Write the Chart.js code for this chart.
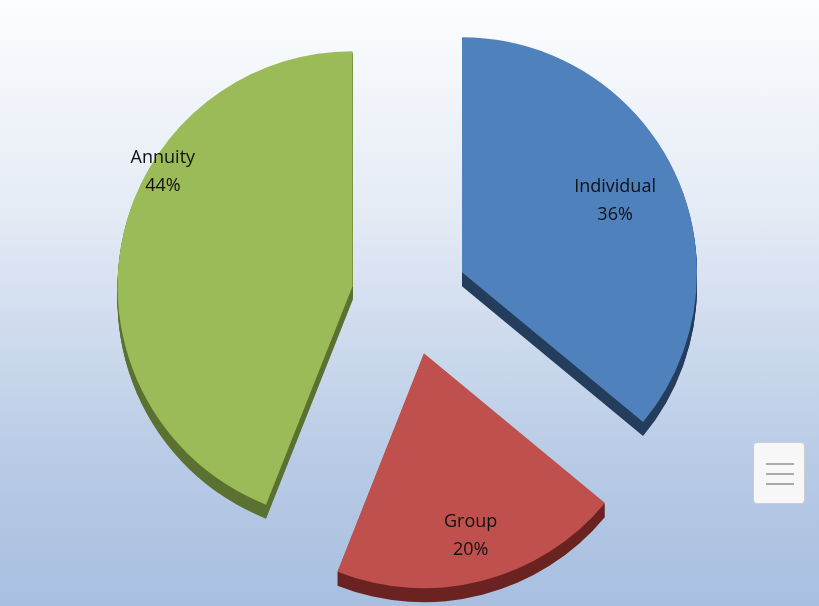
<!DOCTYPE html>
<html><head><meta charset="utf-8">
<script src="https://cdn.jsdelivr.net/npm/chart.js@4"></script>
<style>
html,body{margin:0;padding:0;width:819px;height:606px;overflow:hidden;}
body{background:linear-gradient(#fcfdfe 0%,#e4ebf5 35%,#b9cbe6 75%,#a8bfe0 100%);}
#wrap{position:absolute;left:0;top:0;width:819px;height:606px;}
#menu{position:absolute;left:753px;top:442px;width:52px;height:62px;background:#f7f7f7;border:1px solid #ccc;border-radius:4px;box-sizing:border-box;}
#menu div{position:absolute;left:12px;width:28px;height:2px;background:#aaa;}
</style></head><body>
<div id="wrap"><canvas id="c" width="819" height="606"></canvas></div>
<div id="menu"><div style="top:20px"></div><div style="top:30px"></div><div style="top:40px"></div></div>
<script>
const categories=["Individual","Group","Annuity"];
const values=[36,20,44];
const colors=["#4f81bd","#c0504d","#9bbb59"];
const edgeColors=["#253d5c","#6a2321","#5b7131"];
const OFF=58, R=235, DEPTH=14;

function geom(arc){
  const mid=(arc.startAngle+arc.endAngle)/2;
  return {x:arc.x+Math.cos(mid)*OFF,y:arc.y+Math.sin(mid)*OFF,mid:mid};
}
function wedge(ctx,arc,g,dy,color){
  ctx.fillStyle=color;ctx.beginPath();ctx.moveTo(g.x,g.y+dy);
  ctx.arc(g.x,g.y+dy,arc.outerRadius,arc.startAngle,arc.endAngle);
  ctx.closePath();ctx.fill();
}
const depthPlugin={id:'depth',afterDatasetsDraw(chart){
  const ctx=chart.ctx;const data=chart.getDatasetMeta(0).data;
  ctx.save();
  data.forEach((arc,i)=>{const g=geom(arc);for(let k=1;k<=DEPTH;k++)wedge(ctx,arc,g,k,edgeColors[i]);});
  data.forEach((arc,i)=>{wedge(ctx,arc,geom(arc),0,colors[i]);});
  ctx.font='18px "Open Sans", "DejaVu Sans", sans-serif';
  ctx.fillStyle='#111';ctx.textAlign='center';ctx.textBaseline='middle';
  const fr=[0.72,0.8,0.8];
  data.forEach((arc,i)=>{
    const g=geom(arc);const f=fr[i];
    let x=g.x+Math.cos(g.mid)*arc.outerRadius*f, y=g.y+Math.sin(g.mid)*arc.outerRadius*f;
    if(i===2){y-=80;x-=5;}
    ctx.fillText(categories[i],x,y-13);ctx.fillText(values[i]+'%',x,y+15);
  });
  ctx.restore();
}};
new Chart(document.getElementById('c'),{
  type:'pie',
  data:{labels:categories,datasets:[{data:values,backgroundColor:'rgba(0,0,0,0)',borderWidth:0,offset:0,hoverOffset:0,radius:R}]},
  options:{responsive:false,animation:false,layout:{padding:{bottom:12}},
    plugins:{legend:{display:false},tooltip:{enabled:false}},events:[]},
  plugins:[depthPlugin]
});
</script></body></html>
